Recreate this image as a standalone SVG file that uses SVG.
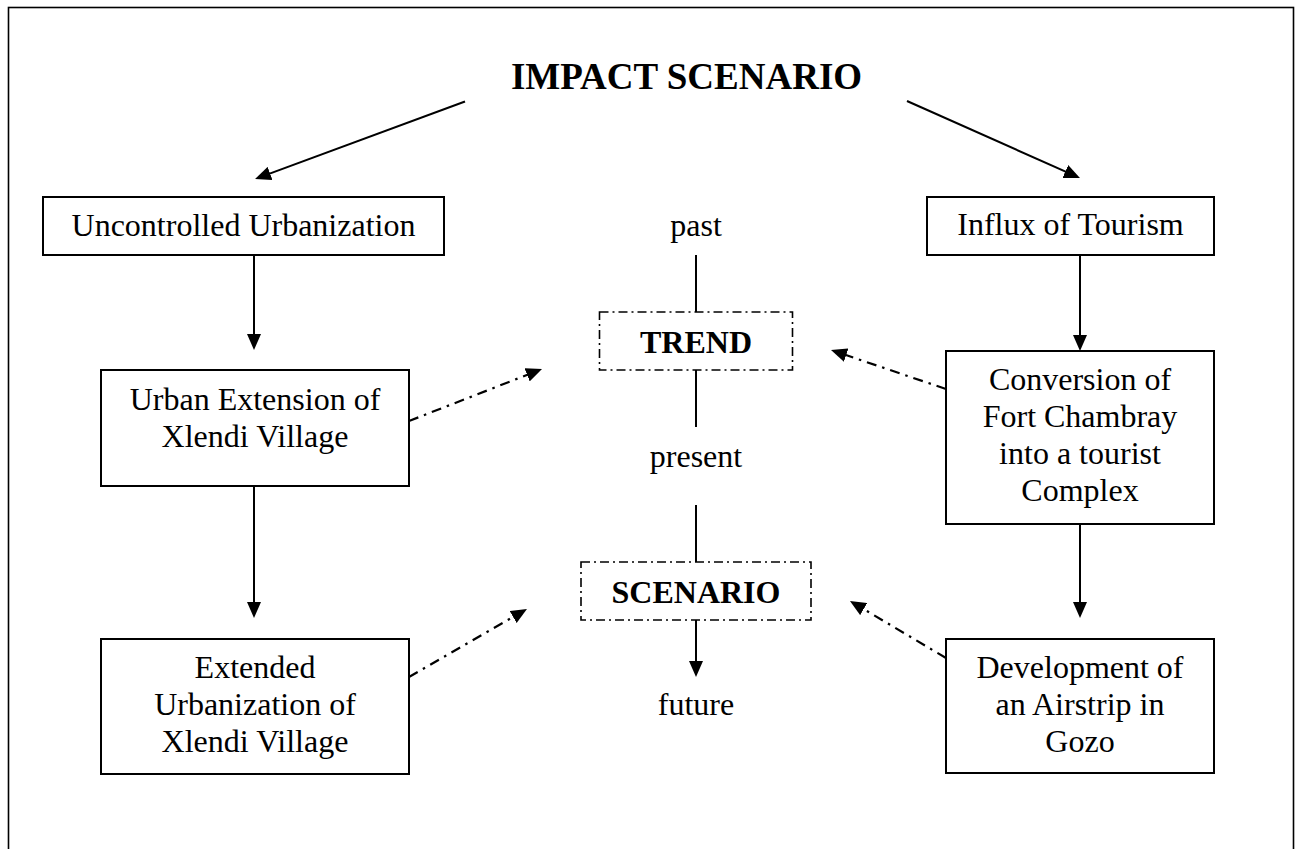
<svg xmlns="http://www.w3.org/2000/svg" width="1297" height="849" viewBox="0 0 1297 849">
  <style>
    text { font-family: "Liberation Serif", "Times New Roman", serif; font-size: 32px; fill: #000; text-anchor: middle; }
    .bold { font-weight: bold; }
    .title { font-size: 37px; font-weight: bold; }
    .box { fill: #fff; stroke: #000; stroke-width: 2; }
    .dbox { fill: none; stroke: #000; stroke-width: 1.6; stroke-dasharray: 9 4 2 4; }
    .edge { fill: none; stroke: #000; stroke-width: 2; }
    .dash { fill: none; stroke: #000; stroke-width: 2.2; stroke-dasharray: 10 6 2.5 6; }
  </style>
  <defs>
    <marker id="arrow" viewBox="0 0 16 14" refX="12" refY="7" markerWidth="16" markerHeight="14" markerUnits="userSpaceOnUse" orient="auto">
      <path d="M0,0 L16,7 L0,14 z" fill="#000"/>
    </marker>
  </defs>

  <!-- outer frame -->
  <rect x="8.5" y="7.5" width="1285" height="900" fill="#fff" stroke="#000" stroke-width="1.6"/>

  <g id="title">
    <text class="title" x="686.5" y="89">IMPACT SCENARIO</text>
  </g>

  <!-- connectors -->
  <g id="connectors">
    <line class="edge" x1="465" y1="101.5" x2="258.8" y2="177.6" marker-end="url(#arrow)"/>
    <line class="edge" x1="907" y1="101" x2="1076.3" y2="176.4" marker-end="url(#arrow)"/>
    <line class="edge" x1="254" y1="255" x2="254" y2="346" marker-end="url(#arrow)"/>
    <line class="edge" x1="254" y1="486" x2="254" y2="614" marker-end="url(#arrow)"/>
    <line class="edge" x1="1080" y1="255" x2="1080" y2="347" marker-end="url(#arrow)"/>
    <line class="edge" x1="1080" y1="524" x2="1080" y2="614" marker-end="url(#arrow)"/>
    <line class="edge" x1="696" y1="255" x2="696" y2="312"/>
    <line class="edge" x1="696" y1="370" x2="696" y2="427"/>
    <line class="edge" x1="696" y1="505" x2="696" y2="562"/>
    <line class="edge" x1="696" y1="620" x2="696" y2="673" marker-end="url(#arrow)"/>
    <line class="dash" x1="409" y1="421" x2="538.3" y2="370.5" marker-end="url(#arrow)"/>
    <line class="dash" x1="946" y1="389" x2="834.8" y2="351.3" marker-end="url(#arrow)"/>
    <line class="dash" x1="409" y1="677" x2="523.5" y2="611" marker-end="url(#arrow)"/>
    <line class="dash" x1="946" y1="658" x2="853.4" y2="603" marker-end="url(#arrow)"/>
  </g>

  <g id="uncontrolled-urbanization">
    <rect class="box" x="43" y="197" width="401" height="58"/>
    <text x="243.5" y="236">Uncontrolled Urbanization</text>
  </g>

  <g id="influx-of-tourism">
    <rect class="box" x="927" y="197" width="287" height="58"/>
    <text x="1070.5" y="235">Influx of Tourism</text>
  </g>

  <g id="urban-extension">
    <rect class="box" x="101" y="370" width="308" height="116"/>
    <text x="255" y="410">Urban Extension of</text>
    <text x="255" y="447">Xlendi Village</text>
  </g>

  <g id="fort-chambray">
    <rect class="box" x="946" y="351" width="268" height="173"/>
    <text x="1080" y="390">Conversion of</text>
    <text x="1080" y="427">Fort Chambray</text>
    <text x="1080" y="463.5">into a tourist</text>
    <text x="1080" y="500.5">Complex</text>
  </g>

  <g id="extended-urbanization">
    <rect class="box" x="101" y="639" width="308" height="135"/>
    <text x="255" y="678">Extended</text>
    <text x="255" y="715">Urbanization of</text>
    <text x="255" y="752">Xlendi Village</text>
  </g>

  <g id="airstrip">
    <rect class="box" x="946" y="639" width="268" height="134"/>
    <text x="1080" y="678">Development of</text>
    <text x="1080" y="715">an Airstrip in</text>
    <text x="1080" y="752">Gozo</text>
  </g>

  <g id="timeline">
    <text x="696" y="236">past</text>
    <text x="696" y="467">present</text>
    <text x="696" y="715">future</text>
  </g>

  <g id="trend">
    <rect class="dbox" x="599.5" y="312" width="193" height="58"/>
    <text class="bold" x="696" y="353">TREND</text>
  </g>

  <g id="scenario">
    <rect class="dbox" x="581" y="562" width="230" height="58"/>
    <text class="bold" x="696" y="603">SCENARIO</text>
  </g>
</svg>
